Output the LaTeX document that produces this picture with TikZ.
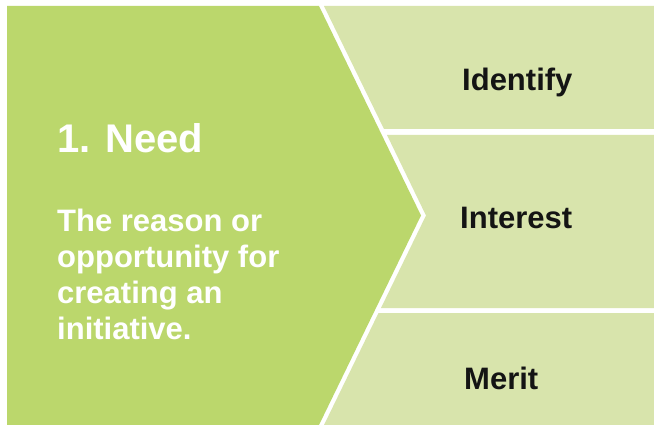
\documentclass[tikz,border=0pt]{standalone}
\usepackage{fontspec}
\setmainfont{Liberation Sans}
\definecolor{darkgreen}{RGB}{187,215,108}
\definecolor{lightgreen}{RGB}{216,228,172}
\definecolor{labeltext}{RGB}{20,20,20}
\begin{document}
\begin{tikzpicture}[x=1pt,y=-1pt,
  titletext/.style={font=\bfseries\fontsize{40}{44}\selectfont, text=white, inner sep=0, anchor=base west},
  bodytext/.style={font=\bfseries\fontsize{31}{36}\selectfont, text=white, inner sep=0, anchor=base west},
  sidetext/.style={font=\bfseries\fontsize{31}{36}\selectfont, text=labeltext, inner sep=0, anchor=base west}]
\useasboundingbox (0,0) rectangle (654,425);
\fill[white] (0,0) rectangle (654,425);
% right light bands
\fill[lightgreen] (324,6) -- (654,6) -- (654,129) -- (384,129) -- cycle;
\fill[lightgreen] (387,135) -- (654,135) -- (654,308) -- (381,308) -- (426,215.5) -- cycle;
\fill[lightgreen] (378.5,313) -- (654,313) -- (654,425) -- (324,425) -- cycle;
% main chevron
\fill[darkgreen] (7,6) -- (319,6) -- (421,215.5) -- (319,425) -- (7,425) -- cycle;
% texts
\node[titletext] (need) at (57,153) {1. Need};
\node[bodytext] (b1) at (57,232) {The reason or};
\node[bodytext] (b2) at (57,267) {opportunity for};
\node[bodytext] (b3) at (57,303) {creating an};
\node[bodytext] (b4) at (57,339) {initiative.};
\node[sidetext] (identify) at (462,91) {Identify};
\node[sidetext] (interest) at (460,229) {Interest};
\node[sidetext] (merit) at (464,389) {Merit};
\end{tikzpicture}
\end{document}
